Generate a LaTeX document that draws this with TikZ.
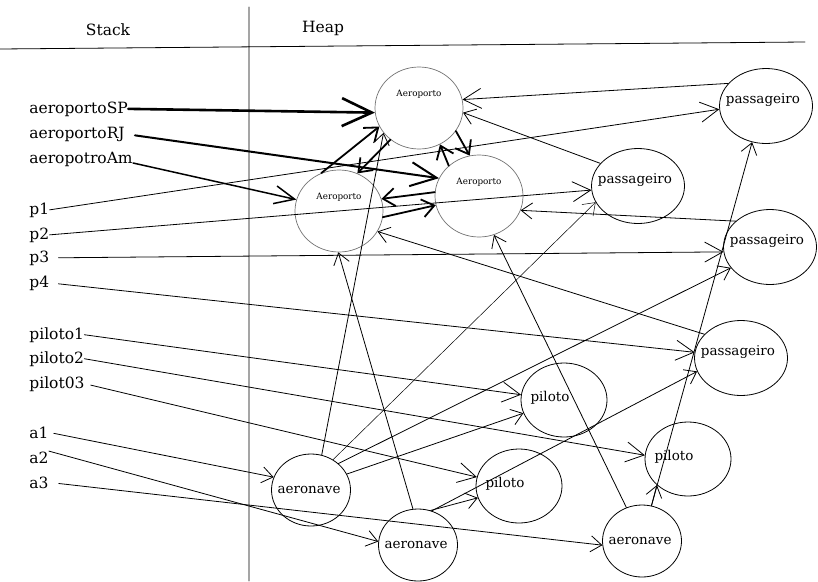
\documentclass[tikz,border=0pt]{standalone}
\usepackage{fontspec}
\setmainfont{DejaVu Serif}
\usetikzlibrary{shapes.geometric,arrows.meta}
\newcommand\stackfont{\fontsize{15.5}{18}\selectfont}
\newcommand\heapfont{\fontsize{13.5}{16}\selectfont}
\newcommand\aerofont{\fontsize{8.8}{10}\selectfont}
\tikzset{
obj/.style={draw,ellipse,inner sep=0pt,line width=.8pt},
aero/.style={obj,draw=black!55,line width=.7pt,minimum width=88pt,minimum height=82pt,label={[name=#1,font=\aerofont,yshift=13.5pt]center:Aeroporto}},
pass/.style={obj,minimum width=93pt,minimum height=75pt,label={[name=#1,font=\heapfont,xshift=-3pt,yshift=6pt]center:passageiro}},
pil/.style={obj,minimum width=86pt,minimum height=74pt,label={[name=#1,font=\heapfont,xshift=-14pt,yshift=2pt]center:piloto}},
nave/.style={obj,minimum width=79pt,minimum height=72pt,label={[name=#1,font=\heapfont,xshift=-2pt]center:aeronave}},
var/.style={anchor=base west,inner sep=0pt,font=\stackfont},
small/.style={>={Straight Barb[length=11pt,width=16pt]}},
fat/.style={->,line width=1.8pt,>={Straight Barb[length=12pt,width=18pt]}}
}
\begin{document}
\begin{tikzpicture}[x=1pt,y=-1pt,>={Straight Barb[length=18pt,width=20pt]},line join=round,line cap=round,line width=.8pt]
\useasboundingbox (0,0) rectangle (818,581);
\draw (0,49)--(805,42) (249,7)--(249,581);
\node[font=\stackfont] (stack) at (108,30) {Stack};
\node[font=\stackfont] (heap) at (323,28) {Heap};
\node[var] (vSP) at (29,113) {aeroportoSP};
\node[var] (vRJ) at (29,138) {aeroportoRJ};
\node[var] (vAm) at (29,163) {aeropotroAm};
\node[var] (vp1) at (29,214) {p1};
\node[var] (vp2) at (29,239) {p2};
\node[var] (vp3) at (29,262) {p3};
\node[var] (vp4) at (29,287) {p4};
\node[var] (vpil1) at (29,339) {piloto1};
\node[var] (vpil2) at (29,363) {piloto2};
\node[var] (vpil3) at (29,388) {pilot03};
\node[var] (va1) at (29,438) {a1};
\node[var] (va2) at (29,463) {a2};
\node[var] (va3) at (29,488) {a3};
\node[aero=tSP] (SP) at (419,108) {};
\node[aero=tRJ] (RJ) at (479,196) {};
\node[aero=tAm] (Am) at (339,211) {};
\node[pass=tP1] (P1) at (766,106) {};
\node[pass=tP2] (P2) at (638,186) {};
\node[pass=tP3] (P3) at (770,247) {};
\node[pass=tP4] (P4) at (741,358) {};
\node[pil=tPl1] (Pl1) at (564,400) {};
\node[pil=tPl2] (Pl2) at (688,459) {};
\node[pil=tPl3] (Pl3) at (519,486) {};
\node[nave=tA1] (A1) at (311,490) {};
\node[nave=tA2] (A2) at (418,545) {};
\node[nave=tA3] (A3) at (642,541) {};
\draw[->,line width=2.6pt,>={Straight Barb[length=30pt,width=28pt]}] (vSP.east)--(SP.186);
\draw[->,line width=2pt,>={Straight Barb[length=26pt,width=24pt]},shorten <=10pt] (vRJ.east)--(RJ.156);
\draw[->,line width=1.5pt,>={Straight Barb[length=20pt,width=18pt]}] (vAm.base east)--(Am.165);
\draw[->] (vp1.east)--(P1.184);
\draw[->] (vp2.east)--(P2.185);
\draw[->,shorten <=9pt] (vp3.east)--(P3.186);
\draw[->,shorten <=9pt] (vp4.east)--(P4.173);
\draw[->] (vpil1.east)--(Pl1.173);
\draw[->] (vpil2.east)--(Pl2.175);
\draw[->,shorten <=6pt] (vpil3.east)--(Pl3.168);
\draw[->,small,shorten <=5pt] (va1.east)--(A1.161);
\draw[->,small] (va2.north east)--(A2.175);
\draw[->,small,shorten <=10pt] (va3.east)--(A3.186);
\draw[fat] (Am.115)--(SP.205);
\draw[fat] (SP.228)--(Am.64);
\draw[fat] (SP.328)--(RJ.103);
\draw[fat] (RJ.135)--(SP.300);
\draw[fat] (RJ.175)--(Am.16);
\draw[fat] (Am.352)--(RJ.192);
\draw[->] (P1.149)--(SP.11);
\draw[->,small] (P2.149)--(SP.354);
\draw[->,small] (P3.143)--(RJ.341);
\draw[->,small] (P4.147)--(Am.332);
\draw[->,small] (A1.73)--(SP.215);
\draw[->,small] (A2.98)--(Am.269);
\draw[->,small] (A3.115)--(RJ.291);
\draw[->,small,line width=.5pt] (A1.54)--(P2.201);
\draw[->,small] (A1.44)--(P3.208);
\draw[->,small] (A1.24)--(Pl1.198);
\draw[->,small] (A2.70)--(Pl3.196);
\draw[->,small] (A2.68)--(P4.197);
\draw[->,small] (A3.75)--(Pl2.220);
\draw[->,small] (A3.75)--(P1.249);
\end{tikzpicture}
\end{document}
